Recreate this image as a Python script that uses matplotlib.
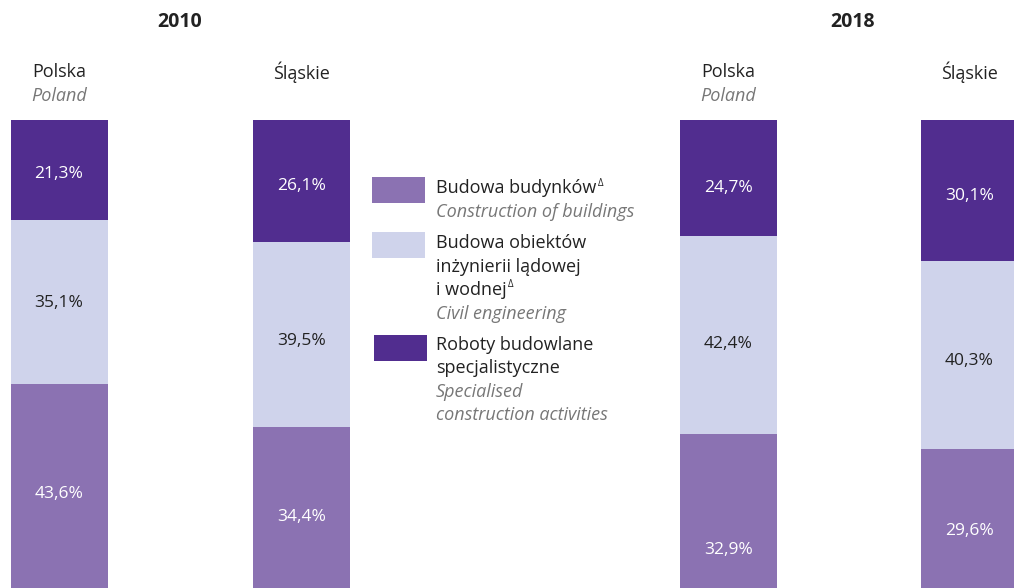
import matplotlib.pyplot as plt
from matplotlib.patches import Rectangle

plt.rcParams['font.family'] = ['Open Sans', 'DejaVu Sans']

# data (percent shares)
regions = ["Polska", "Śląskie", "Polska", "Śląskie"]
regions_en = ["Poland", "", "Poland", ""]
years = ["2010", "2018"]
buildings = [43.6, 34.4, 32.9, 29.6]
civil = [35.1, 39.5, 42.4, 40.3]
specialised = [21.3, 26.1, 24.7, 30.1]

colors = ["#8b72b2", "#cfd3eb", "#512d8f"]
label_colors = ["white", "#222222", "white"]
# value labels in the original sit a bit below segment centres (pixels down)
label_shift = [[8, 9, 39, 12], [1, 6, 9, 6], [4, 5, 10, 6]]

W, H = 1014, 588
fig = plt.figure(figsize=(W / 100, H / 100), dpi=100)

# bars occupy the lower part of the figure; x axis in pixel units
ax = fig.add_axes([0, 0, 1, 1 - 120 / H])
ax.set_xlim(0, W)
ax.set_ylim(0, 100)
ax.axis("off")

xpos = [59, 301.5, 728.5, 969.5]
bar_w = 97

bottom = [0, 0, 0, 0]
for vals, col, tcol, shifts in zip([buildings, civil, specialised], colors, label_colors, label_shift):
    ax.bar(xpos, vals, bar_w, bottom=bottom, color=col, linewidth=0)
    for x, b, v, s in zip(xpos, bottom, vals, shifts):
        ax.annotate(f"{v:.1f}%".replace(".", ","), (x, b + v / 2),
                    xytext=(0, -s * 0.72), textcoords="offset points",
                    ha="center", va="center", color=tcol, fontsize=12.5)
    bottom = [b + v for b, v in zip(bottom, vals)]


def fx(x):
    return x / W


def fy(y):
    return 1 - y / H


# year titles
for x, yr in zip([180, 853], years):
    fig.text(fx(x), fy(22), yr, ha="center", va="center", fontsize=14,
             fontweight="bold", color="#222222")

# column headers
for x, name, name_en in zip(xpos, regions, regions_en):
    fig.text(fx(x), fy(72), name, ha="center", va="center", fontsize=13, color="#222222")
    if name_en:
        fig.text(fx(x), fy(96), name_en, ha="center", va="center", fontsize=13,
                 style="italic", color="#777777")

# legend
fig.canvas.draw()
renderer = fig.canvas.get_renderer()


def line(y, s, italic=False, sup=False):
    t = fig.text(fx(436), fy(y), s, ha="left", va="center", fontsize=13,
                 style="italic" if italic else "normal",
                 color="#777777" if italic else "#222222")
    if sup:
        bb = t.get_window_extent(renderer)
        fig.text(fx(bb.x1 + 1), fy(y - 5), "Δ", ha="left", va="center", fontsize=7,
                 color="#222222")


boxes = [(372, 177, colors[0]), (372, 232, colors[1]), (374, 335, colors[2])]
for x, y, c in boxes:
    fig.patches.append(Rectangle((fx(x), fy(y + 26)), 53 / W, 26 / H,
                                 transform=fig.transFigure, color=c, linewidth=0))

line(188, "Budowa budynków", sup=True)
line(212, "Construction of buildings", italic=True)
line(243, "Budowa obiektów")
line(267, "inżynierii lądowej")
line(290, "i wodnej", sup=True)
line(314, "Civil engineering", italic=True)
line(345, "Roboty budowlane")
line(368, "specjalistyczne")
line(392, "Specialised", italic=True)
line(415, "construction activities", italic=True)

fig.savefig("out.png", dpi=100)
